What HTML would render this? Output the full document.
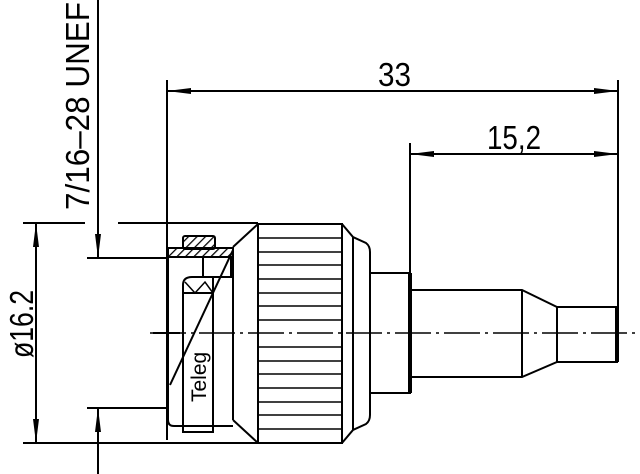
<!DOCTYPE html><html><head><style>body{margin:0;background:#fff}svg{display:block}</style></head><body>
<svg width="640" height="474" viewBox="0 0 640 474" xmlns="http://www.w3.org/2000/svg" font-family="Liberation Sans, sans-serif">
<defs><marker id="a" markerWidth="24" markerHeight="8" refX="24" refY="4" orient="auto-start-reverse" markerUnits="userSpaceOnUse"><path d="M0,1 L24,4 L0,7Z" fill="#000"/></marker>
<pattern id="h" width="6" height="6" patternUnits="userSpaceOnUse" patternTransform="rotate(45)"><line x1="0" y1="0" x2="0" y2="6" stroke="#000" stroke-width="2.5"/></pattern></defs>
<g stroke="#000" stroke-width="2" fill="none">
<line x1="167" y1="80" x2="167" y2="440"/>
<line x1="618" y1="80" x2="618" y2="350"/>
<line x1="410" y1="143" x2="410" y2="275"/>
<line x1="167" y1="91" x2="618" y2="91" marker-start="url(#a)" marker-end="url(#a)"/>
<line x1="410" y1="154" x2="618" y2="154" marker-start="url(#a)" marker-end="url(#a)"/>
<line x1="23" y1="223" x2="85" y2="223"/><line x1="118" y1="223" x2="258" y2="223"/>
<line x1="23" y1="443" x2="258" y2="443"/>
<line x1="87" y1="258" x2="168" y2="258"/><line x1="87" y1="408" x2="168" y2="408"/>
<line x1="153" y1="333" x2="180" y2="333"/>
<line x1="36" y1="223" x2="36" y2="443" marker-start="url(#a)" marker-end="url(#a)"/>
<line x1="98" y1="0" x2="98" y2="258" marker-end="url(#a)"/>
<line x1="98" y1="474" x2="98" y2="408" marker-end="url(#a)"/>
<path d="M168,250 V420 Q168,426 174,426 H233"/>
<rect x="168" y="248" width="65" height="9" fill="url(#h)"/>
<rect x="183" y="236" width="32" height="13" rx="2" fill="url(#h)"/>
<rect x="203" y="257" width="28" height="20"/>
<path d="M183,432 V285 Q183,277 192,277 H213 V432 Z"/>
<path d="M185,282 L195,293 L205,282 L213,293" stroke-width="1.5"/>
<line x1="183" y1="293" x2="213" y2="293"/>
<line x1="233" y1="250" x2="170" y2="385"/>
<line x1="233" y1="247" x2="233" y2="420"/>
<path d="M258,224 L233,247 M258,443 L233,420"/>
<rect x="258" y="224" width="84" height="219"/>
<g stroke-width="1.6">
<line x1="258" y1="238" x2="342" y2="238"/><line x1="258" y1="252" x2="342" y2="252"/><line x1="258" y1="265" x2="342" y2="265"/><line x1="258" y1="279" x2="342" y2="279"/><line x1="258" y1="293" x2="342" y2="293"/><line x1="258" y1="306" x2="342" y2="306"/><line x1="258" y1="320" x2="342" y2="320"/><line x1="258" y1="347" x2="342" y2="347"/><line x1="258" y1="361" x2="342" y2="361"/><line x1="258" y1="374" x2="342" y2="374"/><line x1="258" y1="388" x2="342" y2="388"/><line x1="258" y1="402" x2="342" y2="402"/><line x1="258" y1="415" x2="342" y2="415"/><line x1="258" y1="429" x2="342" y2="429"/>
</g>
<path d="M342,224 L353,237 L366,243 Q370,246 370,252 V415 Q370,421 366,424 L353,430 L342,443"/>
<line x1="353" y1="237" x2="353" y2="430"/>
<rect x="370" y="273" width="40" height="120"/>
<line x1="410" y1="273" x2="410" y2="393" stroke-width="4"/>
<path d="M412,290 H522 L557,307 H617 V362 H557 L522,377 H412"/>
<line x1="522" y1="290" x2="522" y2="377"/><line x1="557" y1="307" x2="557" y2="362"/>
<line x1="617" y1="307" x2="617" y2="362" stroke-width="4"/>
<line x1="150" y1="333" x2="640" y2="333" stroke-dasharray="36,5,3,5" stroke-width="1.6"/>
</g>
<g font-size="33" fill="#000">
<text x="378" y="86" textLength="33" lengthAdjust="spacingAndGlyphs">33</text>
<text x="487" y="149" textLength="54" lengthAdjust="spacingAndGlyphs">15,2</text>
<text transform="translate(33,358) rotate(-90)" textLength="68" lengthAdjust="spacingAndGlyphs">ø16.2</text>
<text transform="translate(89,210) rotate(-90)" textLength="208" lengthAdjust="spacingAndGlyphs">7/16–28 UNEF</text>
<text transform="translate(206,402) rotate(-90)" font-size="21">Teleg</text>
</g>
</svg></body></html>
